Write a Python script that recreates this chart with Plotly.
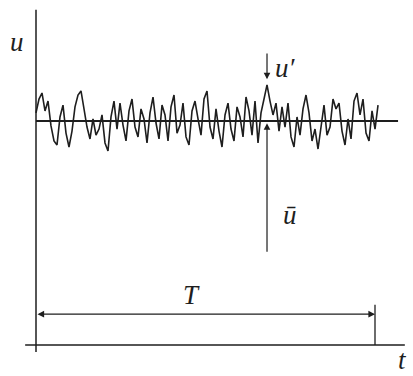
import numpy as np
import plotly.graph_objects as go

# ---- data ----
U_MEAN = 1.0          # mean velocity (u-bar)
T_PERIOD = 10.0       # averaging period T
DT = 0.0885           # sample spacing of the trace
# fluctuation u' around the mean (same units as U_MEAN)
U_PRIME = [0.036, 0.098, 0.125, 0.045, 0.089, -0.022, -0.089, -0.107, 0.018, 0.071,
           -0.054, -0.116, -0.045, 0.063, 0.116, 0.134, 0.054, -0.027, -0.080, 0.009,
           -0.063, -0.036, 0.027, -0.098, -0.134, 0.018, 0.089, -0.036, 0.080, -0.018,
           -0.089, 0.045, 0.098, -0.027, -0.071, 0.054, 0.009, -0.098, 0.036, 0.107,
           -0.009, -0.080, 0.071, 0.027, -0.089, 0.063, 0.116, -0.054, -0.018, 0.080,
           -0.071, -0.107, 0.045, 0.089, 0.009, -0.063, 0.098, 0.134, -0.027, -0.080,
           0.054, -0.045, -0.116, 0.027, 0.080, -0.036, -0.089, 0.063, 0.018, -0.071,
           0.107, 0.045, -0.063, 0.089, -0.098, 0.036, 0.098, 0.161, 0.089, 0.027,
           0.080, -0.045, 0.063, -0.027, 0.080, -0.071, -0.116, 0.018, -0.063, 0.054,
           0.116, 0.036, -0.089, -0.036, -0.125, -0.018, 0.071, -0.063, -0.027, 0.098,
           0.054, 0.080, -0.045, -0.107, 0.009, -0.080, 0.089, 0.125, 0.027, 0.098,
           -0.054, -0.089, 0.045, -0.036, 0.071]
PEAK_INDEX = 77       # sample where u' is marked

t = np.arange(len(U_PRIME)) * DT
u = U_MEAN + np.array(U_PRIME)
t_mark = t[PEAK_INDEX]
u_peak = u[PEAK_INDEX]

INK = "#1e1e1e"
FONT = dict(family="Liberation Serif, DejaVu Serif, serif", size=27, color=INK)

fig = go.Figure()
# signal
fig.add_trace(go.Scatter(x=t, y=u, mode="lines", line=dict(color=INK, width=1.6),
                         hoverinfo="skip", showlegend=False))

shapes = [
    # u axis
    dict(type="line", x0=0, x1=0, y0=-0.031, y1=1.496, line=dict(color=INK, width=1.5)),
    # t axis
    dict(type="line", x0=-0.32, x1=10.88, y0=0, y1=0, line=dict(color=INK, width=1.5)),
    # mean line
    dict(type="line", x0=0, x1=10.68, y0=U_MEAN, y1=U_MEAN, line=dict(color=INK, width=1.8)),
    # end tick of T
    dict(type="line", x0=T_PERIOD, x1=T_PERIOD, y0=0, y1=0.18, line=dict(color=INK, width=1.3)),
]

annotations = [
    # T double arrow
    dict(x=T_PERIOD, y=0.138, ax=0, ay=0.138, xref="x", yref="y", axref="x", ayref="y",
         text="", showarrow=True, arrowhead=2, startarrowhead=2, arrowside="end+start",
         arrowsize=1.1, startarrowsize=1.1, arrowwidth=1.2, arrowcolor=INK),
    # u' arrow (down to the peak)
    dict(x=t_mark, y=u_peak + 0.025, ax=t_mark, ay=1.308, xref="x", yref="y", axref="x", ayref="y",
         text="", showarrow=True, arrowhead=2, arrowsize=1.1, arrowwidth=1.2, arrowcolor=INK),
    # u-bar arrow (up to the mean)
    dict(x=t_mark, y=U_MEAN - 0.01, ax=t_mark, ay=0.41, xref="x", yref="y", axref="x", ayref="y",
         text="", showarrow=True, arrowhead=2, arrowsize=1.1, arrowwidth=1.2, arrowcolor=INK),
    # labels
    dict(x=-0.56, y=1.353, text="<i>u</i>", showarrow=False, font=FONT),
    dict(x=7.35, y=1.237, text="<i>u′</i>", showarrow=False, font=FONT),
    dict(x=7.49, y=0.58, text="<i>ū</i>", showarrow=False, font=FONT),
    dict(x=4.6, y=0.223, text="<i>T</i>", showarrow=False, font=FONT),
    dict(x=10.82, y=-0.068, text="<i>t</i>", showarrow=False, font=FONT),
]

fig.update_layout(
    width=413, height=376,
    margin=dict(l=0, r=0, t=0, b=0),
    paper_bgcolor="white", plot_bgcolor="white",
    xaxis=dict(range=[-1.062, 11.121], visible=False, fixedrange=True),
    yaxis=dict(range=[-0.138, 1.540], visible=False, fixedrange=True),
    shapes=shapes, annotations=annotations,
    showlegend=False,
)

fig.write_html("out.html", config=dict(displayModeBar=False),
               post_script="document.body.style.margin='0';document.body.style.overflow='hidden';")
